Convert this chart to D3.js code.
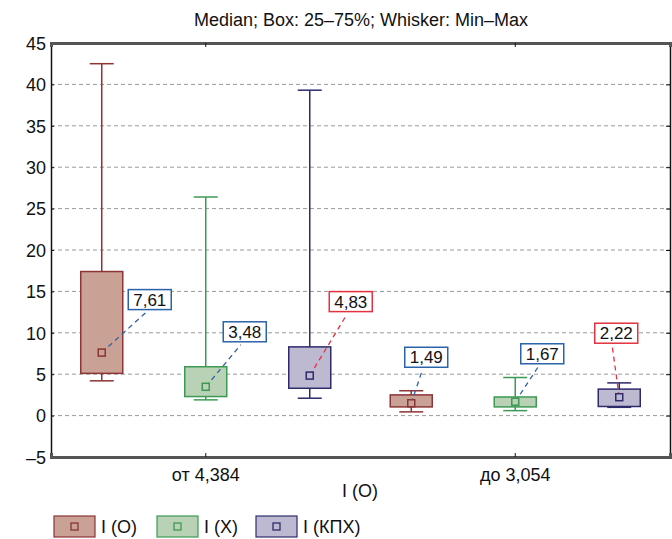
<!DOCTYPE html>
<html><head><meta charset="utf-8">
<script src="https://cdn.jsdelivr.net/npm/d3@7"></script>
<style>body{margin:0;background:#fff}svg{display:block;font-family:"Liberation Sans",Arial,sans-serif}</style>
</head><body>
<svg id="c" width="672" height="539"></svg>
<script>
// ---- data ----
const groups = ["от 4,384", "до 3,054"];
const series = ["I (O)", "I (X)", "I (КПХ)"];
const minVals    = [[4.2, 1.9, 2.1], [0.45, 0.6, 1.0]];
const q1Vals     = [[5.1, 2.3, 3.3], [1.05, 1.05, 1.1]];
const medianVals = [[7.61, 3.48, 4.83], [1.49, 1.67, 2.22]];
const q3Vals     = [[17.4, 5.9, 8.3], [2.5, 2.25, 3.2]];
const maxVals    = [[42.5, 26.4, 39.3], [3.0, 4.6, 3.95]];
const medianLabels = [["7,61", "3,48", "4,83"], ["1,49", "1,67", "2,22"]];
const yTicks = [-5, 0, 5, 10, 15, 20, 25, 30, 35, 40, 45];
const yTickLabels = ["–5", "0", "5", "10", "15", "20", "25", "30", "35", "40", "45"];
const titleText = "Median; Box: 25–75%; Whisker: Min–Max";
const xTitle = "I (O)";

// ---- styling / layout ----
const fills = ["#c9a195", "#b9d1b4", "#bdb9d1"];
const strokes = ["#8c3436", "#3d9a55", "#2e2b6c"];
const labelColors = [["#2b63a9", "#2b63a9", "#e3323f"], ["#2b63a9", "#2b63a9", "#e3323f"]];
const labelOffsets = [[[48, -53], [39, -55], [41, -74]], [[15, -46], [27, -48], [-3, -64]]];

const L = 51, R = 670, T = 43, B = 457;
const svg = d3.select("#c");
const x = d3.scaleBand().domain(groups).range([L, R]);
const sub = d3.scalePoint().domain(series).range([-104, 104]);
const y = d3.scaleLinear().domain([-5, 45]).range([B, T]);
const boxW = 42, capW = 24;

// grid
svg.append("g").selectAll("line").data(yTicks.filter(t => t > -5 && t < 45)).join("line")
  .attr("x1", L).attr("x2", R).attr("y1", d => y(d)).attr("y2", d => y(d))
  .attr("stroke", "#9a9a9a").attr("stroke-width", 1).attr("stroke-dasharray", "4,3");

// axes
const yAxis = d3.axisLeft(y).tickValues(yTicks).tickSize(-3).tickFormat((d, i) => yTickLabels[i]).tickPadding(5);
const gy = svg.append("g").attr("transform", `translate(${L},0)`).call(yAxis);
gy.select(".domain").attr("stroke", "#111").attr("stroke-width", 1.5);
gy.selectAll(".tick line").attr("stroke", "#111");
gy.selectAll("text").attr("font-size", 18).attr("fill", "#111").attr("dy", "0.35em");

const yAxisR = d3.axisRight(y).tickValues(yTicks).tickSize(-4).tickFormat("");
const gyr = svg.append("g").attr("transform", `translate(${R},0)`).call(yAxisR);
gyr.select(".domain").attr("stroke", "#111").attr("stroke-width", 1.5);
gyr.selectAll(".tick line").attr("stroke", "#111");

const xAxis = d3.axisBottom(x).tickSize(-4).tickPadding(11);
const gx = svg.append("g").attr("transform", `translate(0,${B})`).call(xAxis);
gx.select(".domain").attr("stroke", "#555").attr("stroke-width", 3);
gx.selectAll(".tick line").attr("stroke", "#111");
gx.selectAll("text").attr("font-size", 18).attr("fill", "#111");

const xAxisT = d3.axisTop(x).tickSize(-4).tickFormat("");
const gxt = svg.append("g").attr("transform", `translate(0,${T})`).call(xAxisT);
gxt.select(".domain").attr("stroke", "#555").attr("stroke-width", 3);
gxt.selectAll(".tick line").attr("stroke", "#111");

// title
svg.append("text").attr("x", 361).attr("y", 26).attr("text-anchor", "middle")
  .attr("font-size", 18).attr("fill", "#111").text(titleText);
svg.append("text").attr("x", 360).attr("y", 497).attr("text-anchor", "middle")
  .attr("font-size", 18).attr("fill", "#111").text(xTitle);

// boxes
const items = [];
groups.forEach((g, gi) => series.forEach((s, si) => items.push({
  gi, si, cx: x(g) + x.bandwidth() / 2 + sub(s),
  mn: minVals[gi][si], q1: q1Vals[gi][si], md: medianVals[gi][si], q3: q3Vals[gi][si], mx: maxVals[gi][si],
  lab: medianLabels[gi][si]
})));

const gb = svg.append("g");
items.forEach(d => {
  const c = strokes[d.si];
  gb.append("line").attr("x1", d.cx).attr("x2", d.cx).attr("y1", y(d.mx)).attr("y2", y(d.mn)).attr("stroke", c).attr("stroke-width", 1.5);
  gb.append("line").attr("x1", d.cx - capW / 2).attr("x2", d.cx + capW / 2).attr("y1", y(d.mx)).attr("y2", y(d.mx)).attr("stroke", c).attr("stroke-width", 1.5);
  gb.append("line").attr("x1", d.cx - capW / 2).attr("x2", d.cx + capW / 2).attr("y1", y(d.mn)).attr("y2", y(d.mn)).attr("stroke", c).attr("stroke-width", 1.5);
  gb.append("rect").attr("x", d.cx - boxW / 2).attr("width", boxW).attr("y", y(d.q3)).attr("height", y(d.q1) - y(d.q3))
    .attr("fill", fills[d.si]).attr("stroke", c).attr("stroke-width", 1.5);
});

// labels
items.forEach(d => {
  const lc = labelColors[d.gi][d.si];
  const off = labelOffsets[d.gi][d.si];
  const mx = d.cx, my = y(d.md);
  const lx = mx + off[0], ly = my + off[1];
  const w = 43, h = 20;
  const tx = lx - 4, ty = ly + h / 2 + 3;
  gb.append("line").attr("x1", mx).attr("y1", my).attr("x2", tx).attr("y2", ty)
    .attr("stroke", lc).attr("stroke-width", 1.3).attr("stroke-dasharray", "5,4");
  gb.append("rect").attr("x", lx - w / 2).attr("y", ly - h / 2).attr("width", w).attr("height", h)
    .attr("fill", "#fff").attr("stroke", lc).attr("stroke-width", 1.5);
  gb.append("text").attr("x", lx).attr("y", ly).attr("dy", "0.36em").attr("text-anchor", "middle")
    .attr("font-size", 17).attr("fill", "#111").text(d.lab);
});

// median markers
items.forEach(d => {
  gb.append("rect").attr("x", d.cx - 3.5).attr("y", y(d.md) - 3.5).attr("width", 7).attr("height", 7)
    .attr("fill", fills[d.si]).attr("stroke", strokes[d.si]).attr("stroke-width", 1.5);
});

// legend
const legX = [54, 157, 256];
series.forEach((s, i) => {
  const g = svg.append("g").attr("transform", `translate(${legX[i]},516)`);
  g.append("rect").attr("width", 41).attr("height", 21).attr("fill", fills[i]).attr("stroke", strokes[i]).attr("stroke-width", 1.2);
  g.append("rect").attr("x", 17).attr("y", 7).attr("width", 7).attr("height", 7).attr("fill", "none").attr("stroke", strokes[i]).attr("stroke-width", 1.3);
  g.append("text").attr("x", 47).attr("y", 10.5).attr("dy", "0.36em").attr("font-size", 18).attr("fill", "#111").text(s);
});
</script>
</body></html>
